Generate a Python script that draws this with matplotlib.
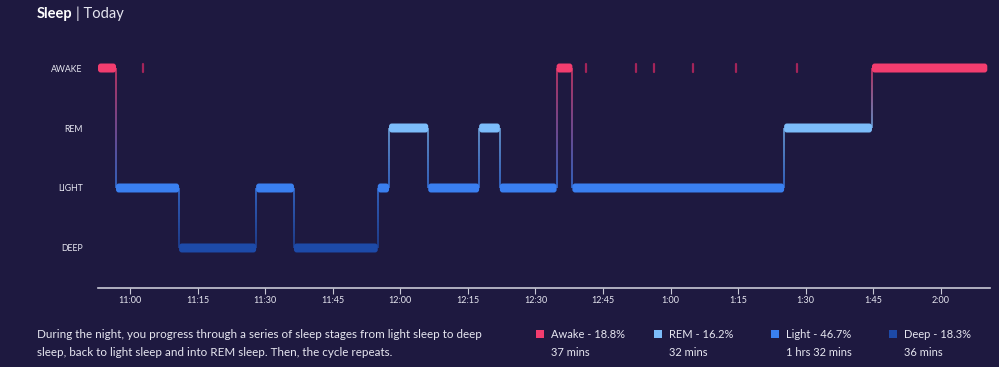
import numpy as np
import matplotlib.pyplot as plt
from matplotlib.patches import FancyBboxPatch, Rectangle
from matplotlib.collections import LineCollection

# Datos: etapas del sueño (minutos desde las 11:00)
niveles = ["DEEP", "LIGHT", "REM", "AWAKE"]
etapas = ["AWAKE", "LIGHT", "DEEP", "LIGHT", "DEEP", "LIGHT", "REM", "LIGHT",
          "REM", "LIGHT", "AWAKE", "LIGHT", "REM", "AWAKE"]
inicios = [-7.1, -3.1, 10.9, 28.0, 36.4, 55.0, 57.5, 66.2, 77.5, 82.1, 94.7,
           98.2, 145.2, 164.7]
fin = 190.3
# despertares breves
despertares = [2.9, 101.2, 112.3, 116.4, 124.9, 134.6, 148.0]

ticks_min = [0, 15, 30, 45, 60, 75, 90, 105, 120, 135, 150, 165, 180]
ticks_lab = ["11:00", "11:15", "11:30", "11:45", "12:00", "12:15", "12:30",
             "12:45", "1:00", "1:15", "1:30", "1:45", "2:00"]

leyenda_nombres = ["Awake - 18.8%", "REM - 16.2%", "Light - 46.7%", "Deep - 18.3%"]
leyenda_tiempos = ["37 mins", "32 mins", "1 hrs 32 mins", "36 mins"]

colores = {"AWAKE": "#f23d6f", "REM": "#7cbcfa", "LIGHT": "#3a7ff0", "DEEP": "#1d4aa8"}
fondo = "#1e1940"
texto = "#e6e6f0"

W, H = 999, 367
fig = plt.figure(figsize=(W / 100, H / 100), dpi=100, facecolor=fondo)
plt.rcParams['font.family'] = ['Lato', 'DejaVu Sans']

# ejes en coordenadas de pixel
x0, x1, ybot, ytop = 98, 990, 288, 40
ax = fig.add_axes([x0 / W, (H - ybot) / H, (x1 - x0) / W, (ybot - ytop) / H])
ax.set_facecolor(fondo)
xlim = (-7.1, 190.9)
ylim = (-0.667, 3.467)
ax.set_xlim(*xlim)
ax.set_ylim(*ylim)

px_min = (x1 - x0) / (xlim[1] - xlim[0])
px_niv = (ybot - ytop) / (ylim[1] - ylim[0])

finales = inicios[1:] + [fin]
grosor = 0.15
# conectores verticales con degradado
for i in range(1, len(etapas)):
    a = niveles.index(etapas[i - 1])
    b = niveles.index(etapas[i])
    x = inicios[i]
    ys = np.linspace(a, b, 40)
    segs = [[(x, ys[k]), (x, ys[k + 1])] for k in range(len(ys) - 1)]
    ca = np.array(plt.matplotlib.colors.to_rgb(colores[etapas[i - 1]]))
    cb = np.array(plt.matplotlib.colors.to_rgb(colores[etapas[i]]))
    t = np.linspace(0, 1, len(segs))[:, None]
    cols = ca * (1 - t) + cb * t
    lc = LineCollection(segs, colors=cols, linewidths=1.3, alpha=0.75, zorder=1)
    ax.add_collection(lc)

# bandas
for e, s, f in zip(etapas, inicios, finales):
    y = niveles.index(e)
    r = 2.8 / px_min
    p = FancyBboxPatch((s, y - grosor / 2), f - s, grosor,
                       boxstyle=f"round,pad=0,rounding_size={r}",
                       mutation_aspect=px_min / px_niv,
                       facecolor=colores[e], edgecolor="none", zorder=2)
    ax.add_patch(p)

for d in despertares:
    ax.plot([d, d], [3 - 0.06, 3 + 0.06], color="#a3245a", lw=1.6,
            solid_capstyle="round", zorder=2)

for s in ["top", "left", "right"]:
    ax.spines[s].set_visible(False)
ax.spines["bottom"].set_color("#c9c9d6")
ax.spines["bottom"].set_linewidth(1.2)
ax.set_xticks(ticks_min)
ax.set_xticklabels(ticks_lab)
ax.tick_params(axis="x", colors="#c9c9d6", labelcolor=texto, labelsize=6.5,
               length=4, width=0.8, pad=2)
ax.set_yticks([0, 1, 2, 3])
ax.set_yticklabels(niveles)
ax.tick_params(axis="y", length=0, labelcolor=texto, labelsize=6.3, pad=11)

# títulos
fig.text(37 / W, 1 - 14 / H, "Sleep", color="white", fontsize=10.5,
         fontweight="bold", va="center")
fig.text(76 / W, 1 - 14 / H, "| Today", color=texto, fontsize=10.5, va="center")

fig.text(37 / W, 1 - 334 / H,
         "During the night, you progress through a series of sleep stages from light sleep to deep",
         color=texto, fontsize=8.4, va="center")
fig.text(37 / W, 1 - 352 / H,
         "sleep, back to light sleep and into REM sleep. Then, the cycle repeats.",
         color=texto, fontsize=8.4, va="center")

cuadros_x = [536, 654, 771, 889]
for cx, nom, tie, e in zip(cuadros_x, leyenda_nombres, leyenda_tiempos,
                            ["AWAKE", "REM", "LIGHT", "DEEP"]):
    fig.add_artist(Rectangle((cx / W, 1 - 338 / H), 8 / W, 8 / H,
                             transform=fig.transFigure, facecolor=colores[e],
                             edgecolor="none"))
    fig.text((cx + 15) / W, 1 - 334 / H, nom, color=texto, fontsize=8,
             va="center")
    fig.text((cx + 15) / W, 1 - 352 / H, tie, color=texto, fontsize=8,
             va="center")

fig.savefig("out.png", dpi=100, facecolor=fondo)
